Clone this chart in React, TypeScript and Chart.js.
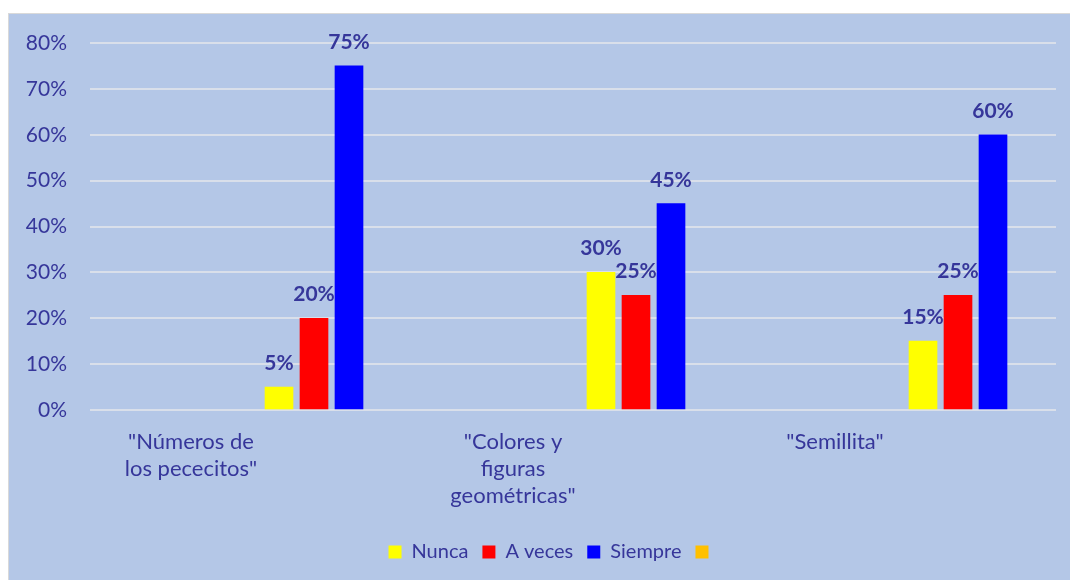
import { useEffect, useRef } from 'react';
import { Chart, registerables } from 'chart.js';

Chart.register(...registerables);

// ---- data ----
const categories: string[][] = [
  ['"Números de', 'los pececitos"'],
  ['"Colores y', 'figuras', 'geométricas"'],
  ['"Semillita"'],
];
const seriesNames = ['Nunca', 'A veces', 'Siempre', ''];
const nunca = [5, 30, 15];
const aVeces = [20, 25, 25];
const siempre = [75, 45, 60];
const blankSeries: (number | null)[] = [null, null, null];
const yTickValues = [0, 10, 20, 30, 40, 50, 60, 70, 80];

// ---- styles ----
const BG = '#b4c7e7';
const TEXT = '#36369a';
const GRID = '#d9dfea';
const FONT = 'Lato';
const seriesColors = ['#FFFF00', '#FF0000', '#0000FF', '#FFC000'];
// per-series slot pitch (px) used by the grouped layout; bars are capped at 28px
const seriesPitch = [28, 31.5, 98 / 3, 33.25];
const PAD_SERIES = 5; // empty leading slots of the original grouped layout
const LEGEND_SHIFT = 21;

const valueLabels = {
  id: 'valueLabels',
  afterDatasetsDraw(chart: any) {
    const ctx = chart.ctx;
    ctx.save();
    ctx.font = `bold 21px ${FONT}`;
    ctx.fillStyle = TEXT;
    ctx.textAlign = 'center';
    ctx.textBaseline = 'alphabetic';
    chart.data.datasets.forEach((ds: any, di: number) => {
      if (di < PAD_SERIES) return;
      const meta = chart.getDatasetMeta(di);
      meta.data.forEach((el: any, i: number) => {
        const v = ds.data[i];
        if (v === null || v === undefined) return;
        ctx.fillText(`${v}%`, el.x, el.y - 17);
      });
    });
    ctx.restore();
  },
};

const legendShift = {
  id: 'legendShift',
  afterLayout(chart: any) {
    const l = chart.legend;
    if (l) {
      l.left += LEGEND_SHIFT;
      l.right += LEGEND_SHIFT;
    }
  },
};

export default function App() {
  const ref = useRef<HTMLCanvasElement | null>(null);

  useEffect(() => {
    if (!ref.current) return;
    const values = [nunca, aVeces, siempre, blankSeries];
    const padding = Array.from({ length: PAD_SERIES }, () => ({
      label: '',
      data: [] as number[],
      backgroundColor: 'transparent',
    }));
    const real = seriesNames.map((name, i) => ({
      label: name,
      data: values[i],
      backgroundColor: seriesColors[i],
      borderWidth: 0,
      barThickness: seriesPitch[i],
      maxBarThickness: 28,
    }));
    const chart = new Chart(ref.current, {
      type: 'bar',
      data: {
        labels: categories as any,
        datasets: [...padding, ...real] as any,
      },
      plugins: [valueLabels, legendShift],
      options: {
        responsive: false,
        animation: false,
        devicePixelRatio: 1,
        layout: { padding: { top: 29, right: 14, bottom: 8, left: 0 } },
        plugins: {
          tooltip: { enabled: false },
          title: { display: false },
          legend: {
            position: 'bottom',
            labels: {
              boxWidth: 13,
              boxHeight: 13,
              padding: 14,
              color: TEXT,
              font: { family: FONT, size: 20 },
              filter: (item: any) => item.datasetIndex >= PAD_SERIES,
            },
          },
        },
        scales: {
          x: {
            grid: { display: false },
            border: { display: false },
            ticks: {
              color: TEXT,
              font: { family: FONT, size: 22, lineHeight: 1.24 },
              labelOffset: -60,
              padding: 10,
              maxRotation: 0,
              autoSkip: false,
            },
            afterFit: (s: any) => {
              s.height = 118;
            },
          },
          y: {
            min: 0,
            max: 80,
            grid: { color: GRID, lineWidth: 2, drawTicks: false },
            border: { display: false },
            afterBuildTicks: (s: any) => {
              s.ticks = yTickValues.map((v) => ({ value: v }));
            },
            ticks: {
              color: TEXT,
              font: { family: FONT, size: 21 },
              padding: 23,
              callback: (v: any) => `${v}%`,
            },
            afterFit: (s: any) => {
              s.width = 81;
              s.paddingTop = 0;
              s.paddingBottom = 0;
            },
          },
        },
      },
    });
    return () => chart.destroy();
  }, []);

  return (
    <div
      style={{
        position: 'absolute',
        left: 8,
        top: 13,
        width: 1061,
        height: 566,
        background: BG,
        borderLeft: '1px solid #d9d9d9',
        borderTop: '1px solid #d9d9d9',
      }}
    >
      <canvas ref={ref} width={1061} height={566} style={{ display: 'block' }} />
    </div>
  );
}
